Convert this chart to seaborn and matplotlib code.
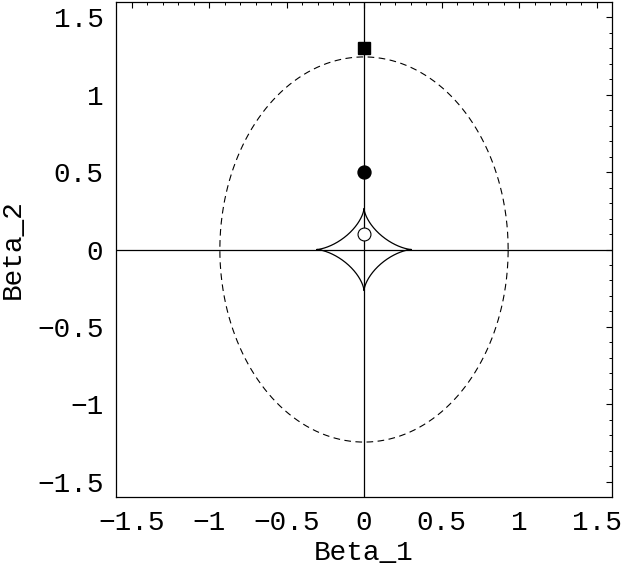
import numpy as np
import matplotlib
matplotlib.use("Agg")
import matplotlib.pyplot as plt
import pandas as pd
import seaborn as sns

ellipse_a, ellipse_b = 0.93, 1.245      # dashed ellipse semi-axes
astroid_a, astroid_b = 0.305, 0.265     # astroid cusp positions
square_pt = (0.0, 1.3)
filled_pt = (0.0, 0.5)
open_pt = (0.0, 0.1)
tick_vals = [-1.5, -1, -0.5, 0, 0.5, 1, 1.5]
tick_labels = ["-1.5", "-1", "-0.5", "0", "0.5", "1", "1.5"]
lim = 1.6

sns.set_theme(style="white")
plt.rcParams['font.family'] = ['Liberation Mono', 'DejaVu Sans']
plt.rcParams['axes.unicode_minus'] = True

t = np.linspace(0, 2 * np.pi, 721)
ell = pd.DataFrame({'x': ellipse_a * np.cos(t), 'y': ellipse_b * np.sin(t)})
ast = pd.DataFrame({'x': astroid_a * np.cos(t) ** 3, 'y': astroid_b * np.sin(t) ** 3})

fig = plt.figure(figsize=(6.21, 5.65), dpi=100)
ax = fig.add_axes([116 / 621, 68 / 565, 496 / 621, 495 / 565])

ax.axhline(0, color='black', lw=0.9)
ax.axvline(0, color='black', lw=0.9)

sns.lineplot(data=ell, x='x', y='y', sort=False, estimator=None, ax=ax,
             color='black', lw=0.8, dashes=False, linestyle=(0, (6, 4)))
sns.lineplot(data=ast, x='x', y='y', sort=False, estimator=None, ax=ax,
             color='black', lw=0.9)

ax.plot(*square_pt, marker='s', ms=9, color='black', ls='none')
ax.plot(*filled_pt, marker='o', ms=9.3, color='black', ls='none')
ax.plot(*open_pt, marker='o', ms=9.3, mfc='white', mec='black', mew=0.8, ls='none')

ax.set_xlim(-lim, lim)
ax.set_ylim(-lim, lim)
ax.set_xticks(tick_vals)
ax.set_xticklabels([s.replace('-', '\u2212') for s in tick_labels])
ax.set_yticks(tick_vals)
ax.set_yticklabels([s.replace('-', '\u2212') for s in tick_labels])
ax.set_xticks(np.arange(-1.5, 1.55, 0.1), minor=True)
ax.set_yticks(np.arange(-1.5, 1.55, 0.1), minor=True)
ax.tick_params(which='both', direction='in', top=True, right=True, labelsize=20,
               colors='black', pad=9)
ax.tick_params(which='major', length=4, width=0.8)
ax.tick_params(which='minor', length=2.2, width=0.7)
ax.tick_params(axis='x', labeltop=False)
ax.tick_params(axis='y', labelright=False)

for sp in ax.spines.values():
    sp.set_color('black')
    sp.set_linewidth(0.9)

ax.set_xlabel('Beta_1', fontsize=20, color='black', labelpad=3)
ax.set_ylabel('Beta_2', fontsize=20, color='black', labelpad=8)

fig.savefig('out.png', dpi=100, facecolor='white')
